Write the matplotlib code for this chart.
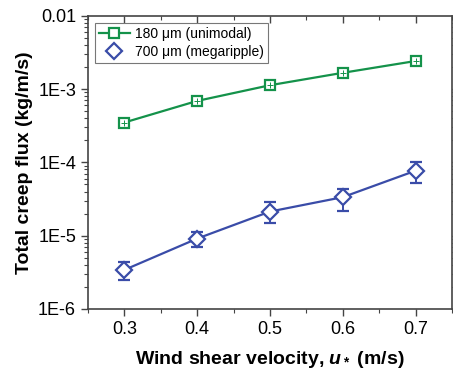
import matplotlib
matplotlib.use("Agg")
import matplotlib.pyplot as plt
from matplotlib.ticker import LogLocator, MultipleLocator, NullFormatter

plt.rcParams["font.family"] = ["Liberation Sans", "DejaVu Sans"]
plt.rcParams["mathtext.fontset"] = "custom"
plt.rcParams["mathtext.it"] = "Liberation Sans:italic:bold"
plt.rcParams["mathtext.rm"] = "Liberation Sans:bold"

# wind shear velocity (m/s)
u_star = [0.3, 0.4, 0.5, 0.6, 0.7]

# 180 um (unimodal) creep flux, kg/m/s
flux_180 = [3.5e-4, 6.9e-4, 1.13e-3, 1.67e-3, 2.42e-3]

# 700 um (megaripple) creep flux with error bar bounds
flux_700 = [3.4e-6, 9.1e-6, 2.13e-5, 3.35e-5, 7.7e-5]
flux_700_hi = [4.4e-6, 1.13e-5, 2.86e-5, 4.36e-5, 1.0e-4]
flux_700_lo = [2.5e-6, 7.1e-6, 1.48e-5, 2.2e-5, 5.2e-5]

green = "#14924a"
blue = "#3a4ca8"

fig = plt.figure(figsize=(4.53, 3.69), dpi=100)
ax = fig.add_axes([0.194, 0.163, 0.804, 0.794])

err_lo = [v - lo for v, lo in zip(flux_700, flux_700_lo)]
err_hi = [hi - v for v, hi in zip(flux_700, flux_700_hi)]

ax.plot(u_star, flux_180, color=green, lw=1.6, marker="s", ms=7,
        mfc="white", mec=green, mew=1.6, label="180 \u03bcm (unimodal)")
ax.plot(u_star, flux_180, ls="none", marker="+", ms=5, mec=green, mew=0.7)
ax.errorbar(u_star, flux_700, yerr=[err_lo, err_hi], color=blue, lw=1.6,
            marker="D", ms=8, mfc="white", mec=blue, mew=1.6,
            elinewidth=1.4, capsize=4, capthick=1.4)
ax.plot([], [], ls="none", marker="D", ms=8, mfc="white", mec=blue, mew=1.6,
        label="700 \u03bcm (megaripple)")

ax.set_yscale("log")
ax.set_xlim(0.25, 0.75)
ax.set_ylim(1e-6, 1e-2)
ax.set_xticks(u_star)
ax.xaxis.set_minor_locator(MultipleLocator(0.05))
ax.set_yticks([1e-6, 1e-5, 1e-4, 1e-3, 1e-2])
ax.set_yticklabels(["1E-6", "1E-5", "1E-4", "1E-3", "0.01"])
ax.yaxis.set_minor_locator(LogLocator(base=10, subs=range(2, 10)))
ax.yaxis.set_minor_formatter(NullFormatter())

ax.tick_params(axis="both", which="major", labelsize=13, length=5,
               width=1, direction="out", color="#444444")
ax.tick_params(axis="both", which="minor", length=3, width=0.8,
               direction="out", color="#444444")
ax.tick_params(top=True, right=True, which="both")
for t in ax.xaxis.get_major_ticks() + ax.xaxis.get_minor_ticks():
    t.tick2line.set_marker(3)
for t in ax.yaxis.get_major_ticks() + ax.yaxis.get_minor_ticks():
    t.tick2line.set_marker(1)
for s in ax.spines.values():
    s.set_color("#444444")
    s.set_linewidth(1.2)

ax.set_xlabel(r"Wind shear velocity, $u_*$ (m/s)", fontsize=14,
              fontweight="bold", labelpad=8)
ax.set_ylabel("Total creep flux (kg/m/s)", fontsize=14, fontweight="bold",
              labelpad=4)

leg = ax.legend(loc="upper left", fontsize=10, fancybox=False,
                edgecolor="#777777", handlelength=2.2, handletextpad=0.4,
                borderpad=0.3, labelspacing=0.3, borderaxespad=0.5,
                framealpha=1)
leg.get_frame().set_linewidth(0.8)

fig.savefig("out.png", dpi=100)
